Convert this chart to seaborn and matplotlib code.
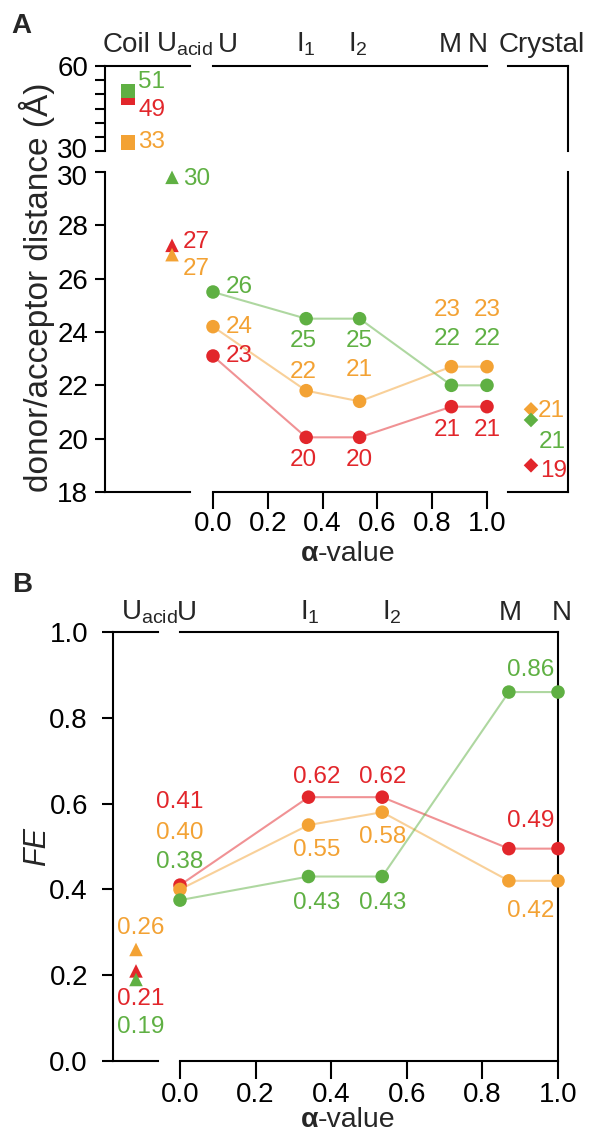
import numpy as np
import pandas as pd
import matplotlib.pyplot as plt
import matplotlib.transforms as mtransforms
import seaborn as sns

sns.set_theme(style="ticks")
plt.rcParams["font.family"] = ["Liberation Sans", "DejaVu Sans"]
plt.rcParams["mathtext.fontset"] = "custom"
plt.rcParams["mathtext.rm"] = "Liberation Sans"
plt.rcParams["mathtext.it"] = "Liberation Sans:italic"
plt.rcParams["axes.linewidth"] = 1.5
plt.rcParams["axes.edgecolor"] = "black"
plt.rcParams["xtick.major.width"] = 1.5
plt.rcParams["ytick.major.width"] = 1.5
plt.rcParams["xtick.color"] = "black"
plt.rcParams["ytick.color"] = "black"
plt.rcParams["xtick.labelsize"] = 20
plt.rcParams["ytick.labelsize"] = 20

# ----------------------------------------------------------------------
# data
# ----------------------------------------------------------------------
SERIES = ["red", "orange", "green"]
PALETTE = {"red": "#e2262b", "orange": "#f3a234", "green": "#5fb043"}

ALPHA = [0.0, 0.34, 0.535, 0.87, 1.0]
STATES = ["U", "I$_1$", "I$_2$", "M", "N"]

# A: donor/acceptor distance (Å); single points ordered red, orange, green
coil_dist = [48.8, 33.0, 51.2]
coil_dist_lab = ["49", "33", "51"]
uacid_dist = [27.25, 26.9, 29.8]
uacid_dist_lab = ["27", "27", "30"]
crystal_dist = [19.0, 21.1, 20.7]
crystal_dist_lab = ["19", "21", "21"]
dist_red = [23.1, 20.05, 20.05, 21.2, 21.2]
dist_orange = [24.2, 21.8, 21.4, 22.7, 22.7]
dist_green = [25.5, 24.5, 24.5, 22.0, 22.0]
dist_red_lab = ["23", "20", "20", "21", "21"]
dist_orange_lab = ["24", "22", "21", "23", "23"]
dist_green_lab = ["26", "25", "25", "22", "22"]

# B: FE
uacid_fe = [0.21, 0.26, 0.19]
uacid_fe_lab = ["0.21", "0.26", "0.19"]
fe_red = [0.41, 0.615, 0.615, 0.495, 0.495]
fe_orange = [0.40, 0.55, 0.58, 0.42, 0.42]
fe_green = [0.375, 0.43, 0.43, 0.86, 0.86]
fe_red_lab = ["0.41", "0.62", "0.62", "0.49", ""]
fe_orange_lab = ["0.40", "0.55", "0.58", "0.42", ""]
fe_green_lab = ["0.38", "0.43", "0.43", "0.86", ""]


def series_table(x, values, labels):
    rows = []
    for s, vals, labs in zip(SERIES, values, labels):
        for xi, v, l in zip(x, vals, labs):
            rows.append({"series": s, "x": xi, "y": v, "label": l})
    return pd.DataFrame(rows)


def point_table(x, values, labels):
    return pd.DataFrame({"series": SERIES, "x": x, "y": values, "label": labels})


dfA = series_table(ALPHA, [dist_red, dist_orange, dist_green],
                   [dist_red_lab, dist_orange_lab, dist_green_lab])
dfA_coil = point_table(0, coil_dist, coil_dist_lab)
dfA_uacid = point_table(1, uacid_dist, uacid_dist_lab)
dfA_cry = point_table(0, crystal_dist, crystal_dist_lab)
dfB = series_table(ALPHA, [fe_red, fe_orange, fe_green],
                   [fe_red_lab, fe_orange_lab, fe_green_lab])
dfB_uacid = point_table(0, uacid_fe, uacid_fe_lab)

# label offsets in pixels (dx right, dy down) + alignment
OFF_A = {
    "red":    [(13, 0, "left"), (-3, 23, "center"), (0, 23, "center"), (-4, 23, "center"), (0, 23, "center")],
    "orange": [(13, 0, "left"), (-3, -19, "center"), (0, -31, "center"), (-4, -57, "center"), (0, -57, "center")],
    "green":  [(13, -5, "left"), (-3, 22, "center"), (0, 22, "center"), (-4, -46, "center"), (0, -46, "center")],
}
OFF_A_COIL = {"red": [(10, 12, "left")], "orange": [(10, 0, "left")], "green": [(10, -9, "left")]}
OFF_A_UACID = {"red": [(11, -3, "left")], "orange": [(11, 14, "left")], "green": [(11, 2, "left")]}
OFF_A_CRY = {"red": [(9, 6, "left")], "orange": [(7, 2, "left")], "green": [(8, 22, "left")]}
OFF_B = {
    "red":    [(0, -83, "center"), (8, -20, "center"), (0, -20, "center"), (22, -28, "center"), (0, 0, "center")],
    "orange": [(0, -56, "center"), (8, 25, "center"), (0, 25, "center"), (22, 30, "center"), (0, 0, "center")],
    "green":  [(0, -38, "center"), (8, 26, "center"), (0, 26, "center"), (22, -22, "center"), (0, 0, "center")],
}
OFF_B_UACID = {"red": [(5, 28, "center")], "orange": [(5, -21, "center")], "green": [(5, 48, "center")]}

# ----------------------------------------------------------------------
# layout helpers (pixel boxes, top-left origin)
# ----------------------------------------------------------------------
W, H = 590, 1131
fig = plt.figure(figsize=(W / 100, H / 100), dpi=100)


def px(x0, y0, x1, y1):
    return [x0 / W, 1 - y1 / H, (x1 - x0) / W, (y1 - y0) / H]


def keep(ax, *sides):
    for side in ["left", "right", "top", "bottom"]:
        ax.spines[side].set_visible(side in sides)
    ax.patch.set_visible(False)
    ax.set_xticks([])
    ax.set_yticks([])


def draw(ax, df, marker, s, line=False):
    if line:
        sns.lineplot(data=df, x="x", y="y", hue="series", hue_order=SERIES, palette=PALETTE,
                     estimator=None, sort=False, lw=1.5, alpha=0.5, legend=False, ax=ax, clip_on=False)
    sns.scatterplot(data=df, x="x", y="y", hue="series", hue_order=SERIES, palette=PALETTE,
                    marker=marker, s=s, edgecolor="none", legend=False, ax=ax, clip_on=False, zorder=3)
    ax.set_xlabel("")
    ax.set_ylabel("")


def put_labels(ax, df, offsets, size=17.5):
    for s in SERIES:
        grp = df[df["series"] == s].reset_index(drop=True)
        for (_, r), (dx, dy, ha) in zip(grp.iterrows(), offsets[s]):
            if r["label"]:
                ax.annotate(r["label"], (r["x"], r["y"]), xytext=(dx, -dy), textcoords="offset pixels",
                            ha=ha, va="center", color=PALETTE[s], fontsize=size, annotation_clip=False)


def state_labels(ax, xs, names, dxs, rise, size=20):
    for x, n, dx in zip(xs, names, dxs):
        ax.annotate(n, (x, 1), xycoords=("data", "axes fraction"), xytext=(dx, rise),
                    textcoords="offset pixels", ha="center", va="baseline", fontsize=size,
                    annotation_clip=False)


def fig_text(x, y, s, **kw):
    fig.text(x / W, 1 - y / H, s, **kw)


def alpha_label(y_base):
    fig_text(318, y_base, "α", ha="right", va="baseline", fontsize=20.5, fontweight="bold")
    fig_text(318, y_base, "-value", ha="left", va="baseline", fontsize=20.5)


def nudge(label, dy_px):
    label.set_transform(label.get_transform() +
                        mtransforms.ScaledTranslation(0, dy_px / 100, fig.dpi_scale_trans))


# ----------------------------------------------------------------------
# Panel A
# ----------------------------------------------------------------------
a_coil_top = fig.add_axes(px(105, 66, 190, 151))
a_coil_bot = fig.add_axes(px(105, 172, 190, 492))
a_main_top = fig.add_axes(px(213, 66, 487, 151))
a_main_bot = fig.add_axes(px(213, 172, 487, 492))
a_cry_top = fig.add_axes(px(508, 66, 568, 151))
a_cry_bot = fig.add_axes(px(508, 172, 568, 492))

keep(a_coil_top, "left", "top")
keep(a_coil_bot, "left", "bottom")
keep(a_main_top, "top")
keep(a_main_bot, "bottom")
keep(a_cry_top, "top", "right")
keep(a_cry_bot, "bottom", "right")

draw(a_coil_top, dfA_coil, "s", 110)
put_labels(a_coil_top, dfA_coil, OFF_A_COIL)
draw(a_coil_bot, dfA_uacid, "^", 95)
put_labels(a_coil_bot, dfA_uacid, OFF_A_UACID)
draw(a_main_bot, dfA, "o", 95, line=True)
put_labels(a_main_bot, dfA, OFF_A)
draw(a_cry_bot, dfA_cry, "D", 55)
put_labels(a_cry_bot, dfA_cry, OFF_A_CRY)

for ax in (a_coil_top, a_coil_bot):
    ax.set_xlim(-0.523, 1.409)
for ax in (a_cry_top, a_cry_bot):
    ax.set_xlim(-0.383, 0.617)
for ax in (a_main_top, a_main_bot):
    ax.set_xlim(0, 1)
for ax in (a_coil_top, a_main_top, a_cry_top):
    ax.set_ylim(30, 60)
for ax in (a_coil_bot, a_main_bot, a_cry_bot):
    ax.set_ylim(18, 30)

a_coil_top.set_yticks(np.arange(30, 61, 5))
a_coil_top.set_yticklabels(["30", "", "", "", "", "", "60"])
a_coil_top.tick_params(axis="y", length=7, pad=5)
a_coil_bot.set_yticks(np.arange(18, 31, 2))
a_coil_bot.tick_params(axis="y", length=7, pad=5)
nudge(a_coil_top.get_yticklabels()[0], 3)
nudge(a_coil_bot.get_yticklabels()[-1], -3)
a_main_bot.set_xticks(np.arange(0, 1.01, 0.2))
a_main_bot.set_xticklabels([f"{v:.1f}" for v in np.arange(0, 1.01, 0.2)])
a_main_bot.tick_params(axis="x", length=12, pad=2)

state_labels(a_coil_top, [0], ["Coil"], [-1], 14)
state_labels(a_coil_top, [1], [r"U$_{\mathrm{acid}}$"], [12], 14)
state_labels(a_main_top, ALPHA, STATES, [15, 0, -2, -1, -9], 14)
state_labels(a_cry_top, [0], ["Crystal"], [11], 14)

fig_text(37, 287, "donor/acceptor distance (Å)", rotation=90, ha="center", va="center", fontsize=24)
alpha_label(561)
fig_text(21, 26, "A", ha="center", va="center", fontsize=20, fontweight="bold")

# ----------------------------------------------------------------------
# Panel B
# ----------------------------------------------------------------------
b_coil = fig.add_axes(px(113, 632, 158, 1061))
b_main = fig.add_axes(px(180, 632, 558, 1061))
keep(b_coil, "left", "top", "bottom")
keep(b_main, "top", "right", "bottom")

draw(b_coil, dfB_uacid, "^", 95)
put_labels(b_coil, dfB_uacid, OFF_B_UACID)
draw(b_main, dfB, "o", 95, line=True)
put_labels(b_main, dfB, OFF_B)

b_coil.set_xlim(-23 / 45, 22 / 45)
b_main.set_xlim(0, 1)
b_coil.set_ylim(0, 1)
b_main.set_ylim(0, 1)
b_coil.set_yticks(np.arange(0, 1.01, 0.2))
b_coil.set_yticklabels([f"{v:.1f}" for v in np.arange(0, 1.01, 0.2)])
b_coil.tick_params(axis="y", length=8, pad=10)
b_main.set_xticks(np.arange(0, 1.01, 0.2))
b_main.set_xticklabels([f"{v:.1f}" for v in np.arange(0, 1.01, 0.2)])
b_main.tick_params(axis="x", length=13, pad=2)

state_labels(b_coil, [0], [r"U$_{\mathrm{acid}}$"], [13], 12)
state_labels(b_main, ALPHA, STATES, [7, 1, 10, 1, 4], 12)

fig_text(37, 846, "FE", rotation=90, ha="center", va="center", fontsize=22, fontstyle="italic")
alpha_label(1127)
fig_text(22, 585, "B", ha="center", va="center", fontsize=20, fontweight="bold")

fig.savefig("out.png", dpi=100)
